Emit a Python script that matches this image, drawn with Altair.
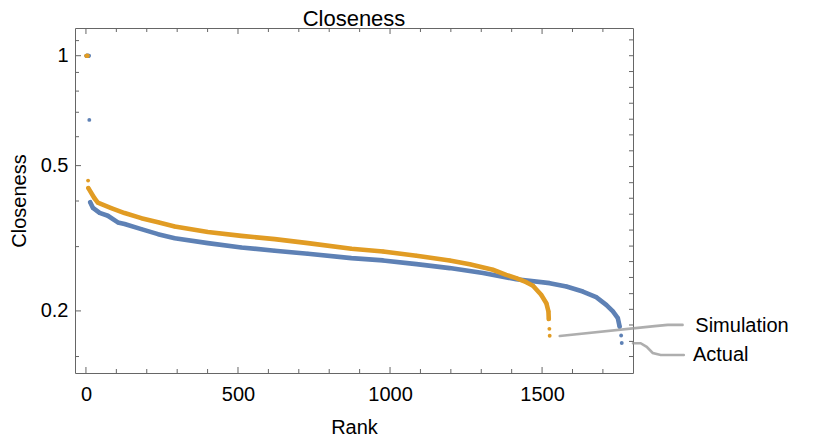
import altair as alt
import pandas as pd

# ---- data ----
# Simulation (orange)
sim_top_rank = [1, 2, 3, 4, 5, 6, 7]
sim_top_val = [1.0, 1.0, 1.0, 1.0, 1.0, 1.0, 0.455]
sim_rank = [8, 28, 39, 83, 127, 182, 237, 292, 401, 511, 621, 730, 873, 977, 1087,
            1196, 1262, 1338, 1382, 1415, 1448, 1470, 1497, 1514, 1521, 1522]
sim_val = [0.434, 0.407, 0.396, 0.3826, 0.3707, 0.359, 0.350, 0.3406, 0.3289, 0.3211,
           0.3145, 0.3067, 0.296, 0.291, 0.2832, 0.275, 0.2686, 0.2593, 0.251, 0.246,
           0.2397, 0.2344, 0.2214, 0.21, 0.1993, 0.19]
sim_tail_rank = [1524, 1525]
sim_tail_val = [0.1786, 0.171]

# Actual (blue)
act_top_rank = [1, 2, 3, 4, 5, 6, 7, 8, 9, 10, 11]
act_top_val = [1.0, 1.0, 1.0, 1.0, 1.0, 1.0, 1.0, 1.0, 1.0, 1.0, 0.667]
act_rank = [14, 23, 45, 72, 105, 127, 182, 237, 292, 401, 511, 621, 730, 873, 977,
            1087, 1196, 1306, 1415, 1525, 1580, 1634, 1678, 1711, 1733, 1749, 1755]
act_val = [0.397, 0.383, 0.371, 0.3645, 0.3495, 0.346, 0.335, 0.3245, 0.3164, 0.3067,
           0.2985, 0.2923, 0.2868, 0.279, 0.275, 0.2686, 0.262, 0.2539, 0.2443, 0.2383,
           0.2333, 0.226, 0.2182, 0.2078, 0.1993, 0.1912, 0.1813]
act_tail_rank = [1760, 1762]
act_tail_val = [0.1713, 0.1633]

# callout annotations (data coordinates)
sim_call_rank = [1558, 1870, 1913, 1962]
sim_call_val = [0.1708, 0.1817, 0.1831, 0.1831]
act_call_rank = [1799, 1824, 1844, 1864, 1890, 1966]
act_call_val = [0.1631, 0.1631, 0.1594, 0.1534, 0.1515, 0.1515]
label_text = ["Simulation", "Actual"]
label_rank = [2004, 1996]
label_val = [0.1824, 0.1515]

# axis ticks
x_major = [0, 500, 1000, 1500]
x_minor = [100, 200, 300, 400, 600, 700, 800, 900, 1100, 1200, 1300, 1400, 1600, 1700]
y_major = [0.2, 0.5, 1.0]
y_minor = [0.15, 0.3, 0.4, 0.6, 0.7, 0.8, 0.9, 1.1]
y_right = [0.150, 0.165, 0.183, 0.202, 0.223, 0.247, 0.273, 0.301, 0.333, 0.368, 0.407,
           0.449, 0.497, 0.549, 0.607, 0.670, 0.741, 0.819, 0.905, 1.0, 1.105]

BLUE = "#5E81B5"
ORANGE = "#E19C24"
FRAME = "#666666"
FONT = "Liberation Sans"
W, H = 558, 345

xscale = alt.Scale(domain=[-36, 1799], nice=False, zero=False)
yscale = alt.Scale(type="log", domain=[0.1352, 1.191], nice=False)
xaxis = alt.Axis(values=x_major, format="d", tickSize=0, ticks=False, domain=False, grid=False,
                 labelFontSize=20, labelFont=FONT, labelColor="black", labelPadding=11,
                 title="Rank", titleFontSize=20, titleFont=FONT, titleFontWeight="normal",
                 titleColor="black", titlePadding=13, labelFlush=False)
yaxis = alt.Axis(values=y_major, format="~g", tickSize=0, ticks=False, domain=False,
                 grid=False, labelFontSize=20, labelFont=FONT, labelColor="black",
                 labelPadding=7, title="Closeness", titleFontSize=20, titleFont=FONT,
                 titleFontWeight="normal", titleColor="black", titlePadding=11)


def X(f):
    return alt.X(f"{f}:Q", scale=xscale, axis=xaxis)


def Y(f):
    return alt.Y(f"{f}:Q", scale=yscale, axis=yaxis)


def df(r, v):
    return pd.DataFrame({"rank": r, "value": v})


act_line = df(act_rank, act_val)
act_pts = df(act_top_rank + act_rank + act_tail_rank, act_top_val + act_val + act_tail_val)
sim_line = df(sim_rank, sim_val)
sim_pts = df(sim_top_rank + sim_rank + sim_tail_rank, sim_top_val + sim_val + sim_tail_val)

layers = []
layers.append(alt.Chart(act_line).mark_line(color=BLUE, strokeWidth=4.6, strokeCap="round",
                                            strokeJoin="round").encode(x=X("rank"), y=Y("value")))
layers.append(alt.Chart(act_pts).mark_circle(color=BLUE, size=15, opacity=1).encode(x=X("rank"), y=Y("value")))
layers.append(alt.Chart(sim_line).mark_line(color=ORANGE, strokeWidth=4.6, strokeCap="round",
                                            strokeJoin="round").encode(x=X("rank"), y=Y("value")))
layers.append(alt.Chart(sim_pts).mark_circle(color=ORANGE, size=15, opacity=1).encode(x=X("rank"), y=Y("value")))

# callouts
call = pd.concat([
    pd.DataFrame({"rank": sim_call_rank, "value": sim_call_val, "which": "Simulation"}),
    pd.DataFrame({"rank": act_call_rank, "value": act_call_val, "which": "Actual"}),
])
layers.append(alt.Chart(call).mark_line(color="#9a9a9a", strokeWidth=2.6, opacity=0.8,
                                        clip=False, strokeCap="round").encode(
    x=X("rank"), y=Y("value"), detail="which:N"))
labels = pd.DataFrame({"rank": label_rank, "value": label_val, "text": label_text})
layers.append(alt.Chart(labels).mark_text(align="left", baseline="middle", fontSize=20,
                                          font=FONT, color="black", clip=False).encode(
    x=X("rank"), y=Y("value"), text="text:N"))

# frame ticks (inward)
ymaj = pd.DataFrame({"t": y_major})
ymin = pd.DataFrame({"t": y_minor})
yr = pd.DataFrame({"t": y_right})
xmaj = pd.DataFrame({"t": x_major})
xmin = pd.DataFrame({"t": x_minor})
for d, L in ((ymaj, 6), (ymin, 4)):
    layers.append(alt.Chart(d).mark_rule(color=FRAME, strokeWidth=1).encode(
        y=Y("t"), x=alt.value(0), x2=alt.value(L)))
layers.append(alt.Chart(yr).mark_rule(color=FRAME, strokeWidth=1).encode(
    y=Y("t"), x=alt.value(W - 4), x2=alt.value(W)))
for d, L in ((xmaj, 6), (xmin, 4)):
    layers.append(alt.Chart(d).mark_rule(color=FRAME, strokeWidth=1).encode(
        x=X("t"), y=alt.value(H), y2=alt.value(H - L)))
    layers.append(alt.Chart(d).mark_rule(color=FRAME, strokeWidth=1).encode(
        x=X("t"), y=alt.value(0), y2=alt.value(L)))

chart = alt.layer(*layers).properties(
    width=W, height=H,
    title=alt.TitleParams("Closeness", fontSize=22, font=FONT, fontWeight="normal",
                          color="black", anchor="middle", offset=-3),
    autosize=alt.AutoSizeParams(type="none"),
    padding={"left": 67, "top": 20, "right": 180, "bottom": 63},
).configure_view(stroke=FRAME, strokeWidth=1)

chart.save("out.html", embed_options={"renderer": "svg", "actions": False})
